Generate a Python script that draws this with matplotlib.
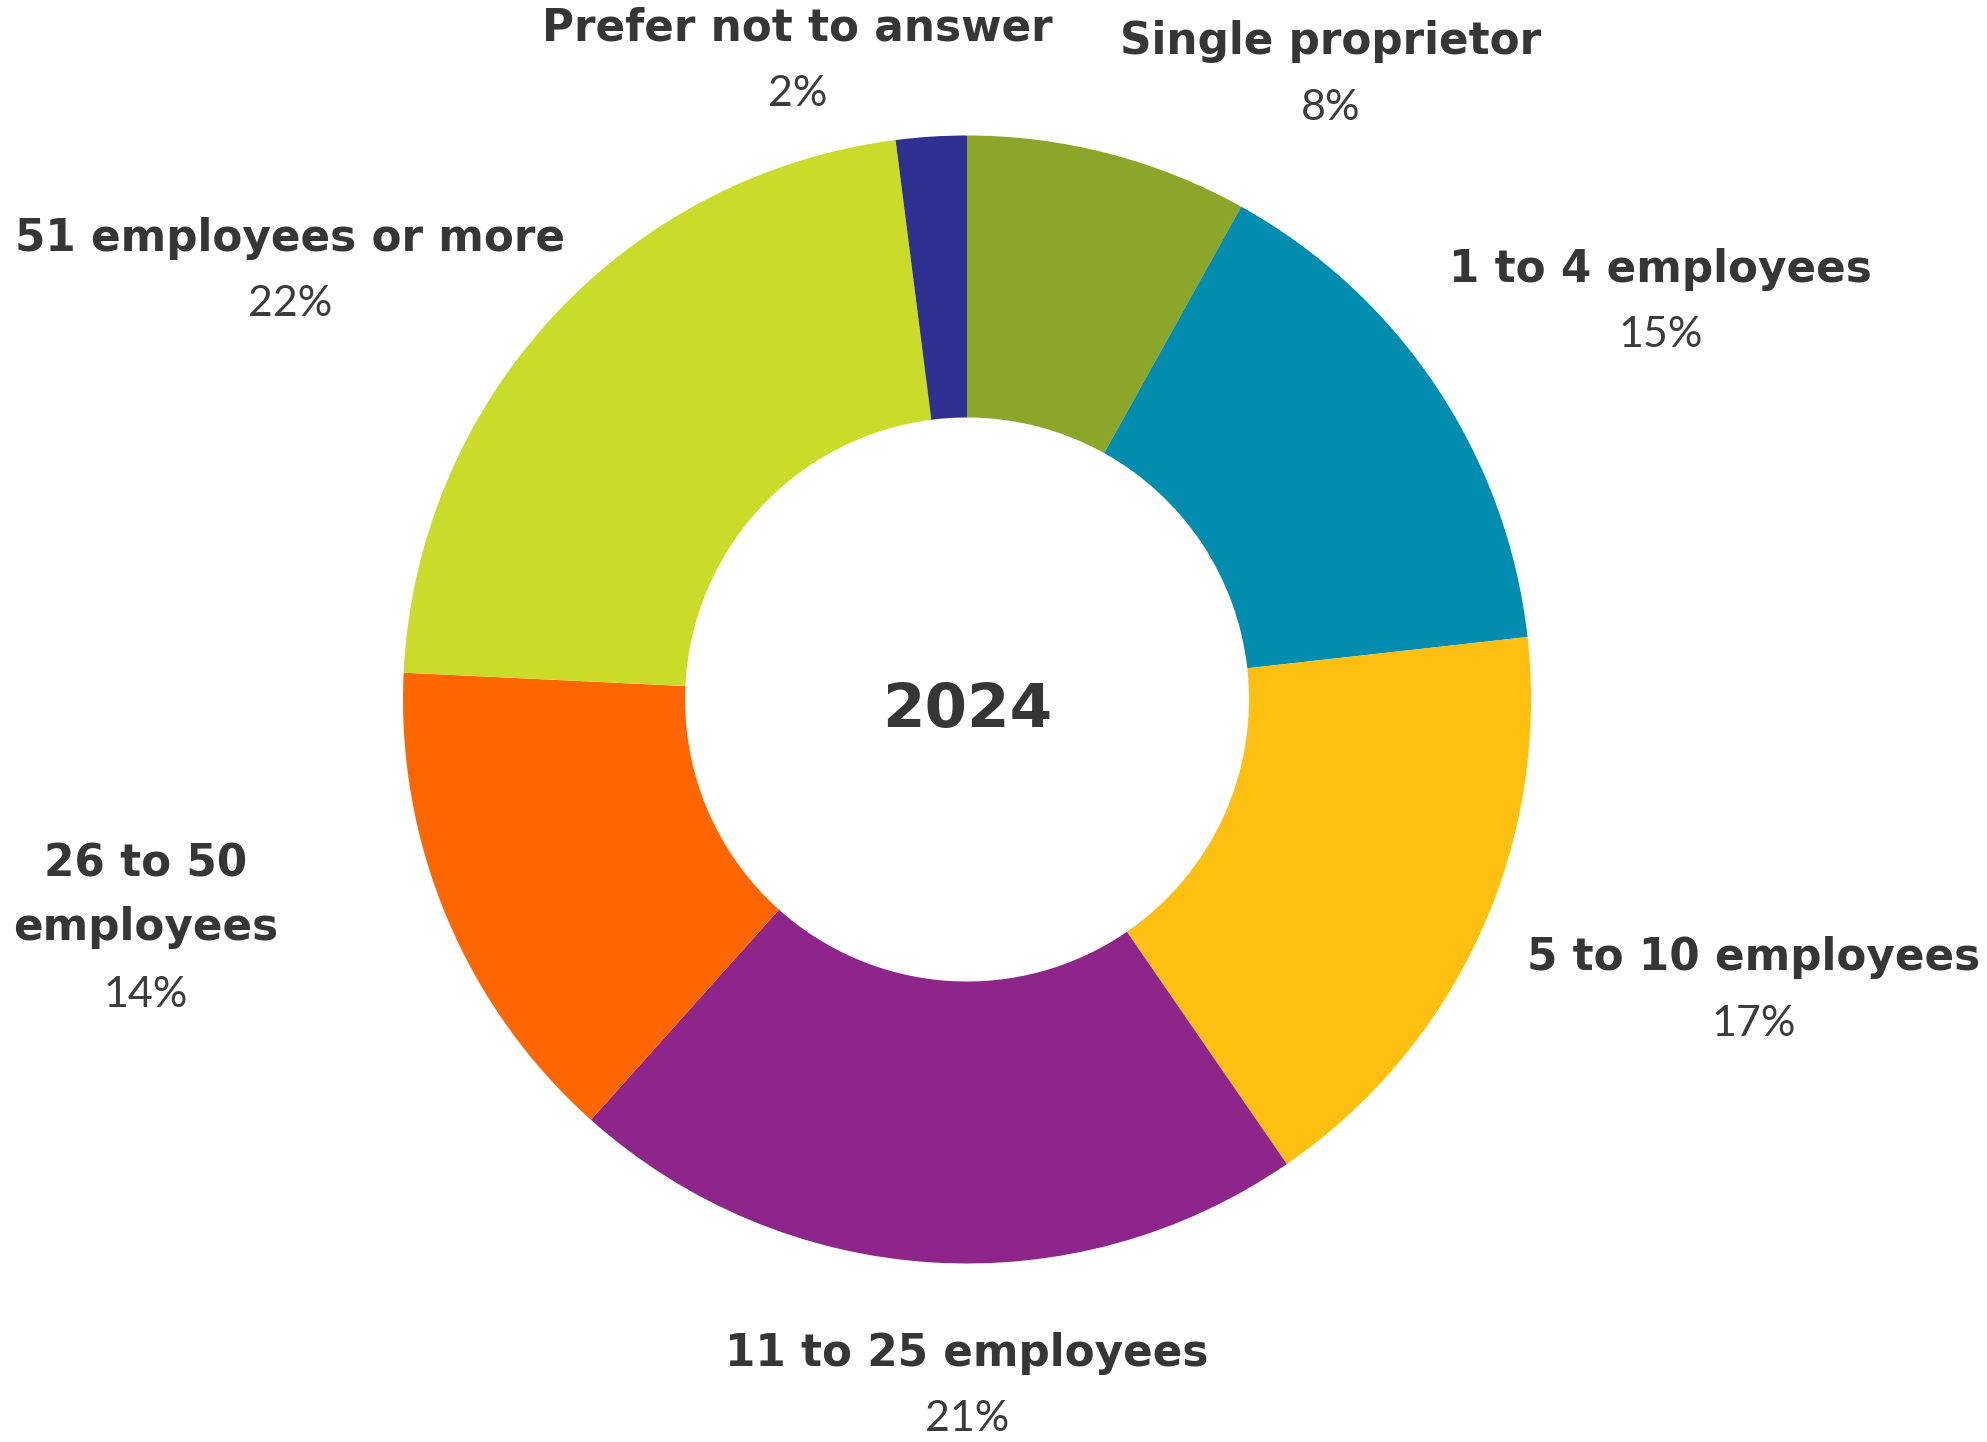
import matplotlib
matplotlib.use('Agg')
import matplotlib.pyplot as plt

# survey answers, clockwise from the top
labels = ['Single proprietor', '1 to 4 employees', '5 to 10 employees',
          '11 to 25 employees', '26 to 50\nemployees', '51 employees or more',
          'Prefer not to answer']
shares = [8, 15, 17, 21, 14, 22, 2]
colors = ['#8BA629', '#028DB0', '#FDBF10', '#8E258B', '#FF6600', '#CBDB2A', '#2E3192']
center_text = '2024'

# where each label sits (in units of the outer radius)
label_pos = [(0.645, 1.166), (1.230, 0.763), (1.394, -0.458), (0.0, -1.159),
             (-1.456, -0.348), (-1.200, 0.818), (-0.300, 1.191)]

TEXT = '#363636'

fig = plt.figure(figsize=(19.87, 14.42), dpi=100)
ax = fig.add_axes([0, 0, 1, 1])

ax.pie(shares, colors=colors, startangle=90, counterclock=False, radius=1,
       wedgeprops=dict(width=0.5, linewidth=0))

for lab, val, (x, y) in zip(labels, shares, label_pos):
    ax.text(x, y, lab, ha='center', va='center', fontsize=31.5,
            fontweight='bold', color=TEXT, family='DejaVu Sans', linespacing=1.6)
    nlines = lab.count('\n') + 1
    ax.text(x, y - 0.059 * (nlines - 1) - 0.117, f'{val}%', ha='center', va='center',
            fontsize=31, fontweight='normal', color='#3c3c3c', family='Lato')

ax.text(0, -0.02, center_text, ha='center', va='center', fontsize=44,
        fontweight='bold', color=TEXT, family='DejaVu Sans')

ax.set_xlim(-967 / 564, (1987 - 967) / 564)
ax.set_ylim(-742.5 / 564, 699.5 / 564)
ax.set_aspect('equal')
ax.axis('off')

fig.savefig('out.png', dpi=100)
